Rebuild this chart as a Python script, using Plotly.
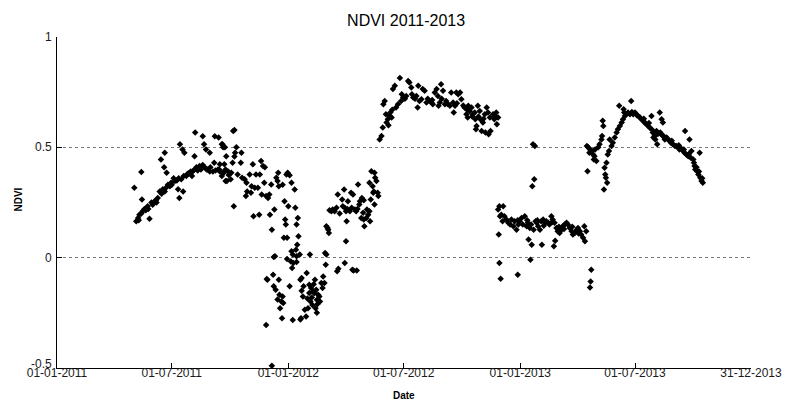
import pandas as pd
import plotly.graph_objects as go

# (days since 2011-01-01, NDVI)
SEASON_2011 = [
    (125,0.165),(128,0.18),(130,0.195),(135,0.21),(138,0.22),(143,0.233),(146,0.176),(149,0.25),(154,0.256),(159,0.27),
    (162,0.30),(167,0.31),(172,0.317),(178,0.324),(180,0.34),(186,0.347),(191,0.31),(193,0.27),(199,0.30),(196,0.355),
    (204,0.37),(209,0.385),(214,0.39),(220,0.41),(225,0.415),(233,0.41),(238,0.40),(246,0.39),(254,0.40),(262,0.385),
    (270,0.39),(275,0.385),
    (122,0.317),(133,0.388),(164,0.445),(170,0.476),(169,0.41),(173,0.385),(194,0.514),(198,0.49),(201,0.476),(217,0.46),
    (218,0.567),(230,0.55),(232,0.514),(235,0.49),(241,0.476),(249,0.55),(255,0.545),(260,0.514),(265,0.50),(267,0.46),
    (248,0.43),(257,0.423),(264,0.423),(266,0.347),(278,0.574),(134,0.264),
    (129,0.17),(133,0.2),(140,0.215),(144,0.22),(151,0.24),(156,0.26),(157,0.25),(165,0.29),(170,0.3),(175,0.33),
    (181,0.33),(184,0.36),(189,0.35),(192,0.36),(200,0.37),(206,0.38),(211,0.39),(213,0.37),(217,0.40),(222,0.395),
    (227,0.40),(230,0.42),(236,0.40),(241,0.39),(242,0.41),(250,0.395),(257,0.39),(260,0.37),(266,0.40),(271,0.375),
    (280,0.579),(261,0.514),(262,0.50),(283,0.50),(281,0.476),(291,0.476),(280,0.458),(277,0.43),(290,0.43),(309,0.423),
    (322,0.438),(325,0.415),(328,0.41),(256,0.40),(263,0.385),(272,0.385),(268,0.347),(274,0.355),(285,0.377),(292,0.362),
    (296,0.355),(299,0.34),(304,0.377),(307,0.324),(312,0.317),(317,0.317),(300,0.30),(298,0.279),(306,0.294),(314,0.377),
    (320,0.377),(327,0.34),(323,0.286),(330,0.279),(333,0.27),(335,0.286),(338,0.332),(349,0.385),(346,0.362),(348,0.347),
    (350,0.324),(364,0.385),(367,0.373),(362,0.377),(279,0.233),(310,0.188),(319,0.195),(336,0.195),(343,0.218),(339,0.127),
    (359,0.256),(365,0.233),(375,0.309),(376,0.226),(380,0.18),(360,0.173),(361,0.15),(378,0.15),(381,0.097),(358,0.09),
    (363,0.09),(379,0.059),(377,0.036),(370,0.029),(372,0.014),(378,0.006),(344,0.006),(369,-0.017),(371,-0.047),(373,-0.024),
    (383,0.014),(399,0.014),(425,0.014),(424,-0.032),(427,0.135),(356,0.33),(370,0.34),
]

WINTER_2012 = [
    (332,-0.10),(341,-0.077),(342,-0.13),(345,-0.145),(351,-0.168),(356,-0.176),(354,-0.199),(352,-0.229),(355,-0.274),(330,-0.305),
    (367,-0.13),(372,-0.282),(385,-0.274),(391,-0.236),(393,-0.267),(384,-0.10),(386,-0.092),(388,-0.176),(394,-0.07),(398,-0.123),
    (401,-0.138),(404,-0.153),(406,-0.161),(409,-0.145),(412,-0.168),(410,-0.191),(414,-0.176),(415,-0.199),(400,-0.199),(403,-0.214),
    (396,-0.229),(408,-0.229),(407,-0.10),(420,-0.085),(422,-0.115),(419,-0.138),(331,-0.097),(342,0.003),(363,-0.006),(357,-0.206),
    (389,-0.13),(384,-0.28),(417,-0.115),(442,-0.062),(454,-0.024),(468,-0.058),(473,-0.058),(339,-0.49),(402,-0.18),(411,-0.21),
    (405,-0.12),(398,-0.16),(348,-0.19),(350,-0.1),(378,-0.02),(386,-0.15),(395,-0.185),(410,-0.25),
]

SPRING_2012 = [
    (496,0.392),(501,0.385),(502,0.362),(504,0.347),(493,0.34),(498,0.324),(500,0.30),(506,0.294),(507,0.279),(499,0.294),
    (495,0.264),(501,0.241),(493,0.21),(491,0.195),(488,0.18),(494,0.165),(489,0.218),(483,0.203),(484,0.173),(485,0.142),
    (480,0.18),(477,0.241),(481,0.27),(475,0.332),(478,0.256),(467,0.286),(464,0.294),(465,0.226),(470,0.218),(472,0.21),
    (462,0.21),(456,0.21),(454,0.226),(451,0.233),(459,0.256),(453,0.309),(450,0.264),(443,0.286),(441,0.226),(435,0.218),
    (438,0.21),(433,0.21),(457,0.165),(425,0.142),(428,0.127),(429,0.112),(456,0.074),(423,0.021),(444,-0.05),(466,-0.055),
    (430,0.215),(446,0.2),(458,0.22),(474,0.22),(484,0.26),
]

SUMMER_2012 = [
    (509,0.536),(512,0.551),(514,0.59),(520,0.612),(522,0.627),(525,0.642),(519,0.65),(526,0.658),(528,0.635),(515,0.695),
    (517,0.71),(530,0.764),(533,0.779),(541,0.814),(535,0.68),(538,0.695),(543,0.71),(546,0.726),(544,0.741),(551,0.733),
    (554,0.801),(556,0.794),(559,0.771),(560,0.741),(562,0.726),(567,0.733),(570,0.779),(572,0.71),(569,0.68),(575,0.718),
    (577,0.764),(580,0.756),(583,0.703),(588,0.71),(591,0.703),(593,0.695),(596,0.748),(599,0.764),(601,0.733),(602,0.688),
    (604,0.703),(606,0.786),(609,0.756),(612,0.695),(614,0.71),(617,0.695),(620,0.688),(622,0.748),(625,0.703),(626,0.658),
    (628,0.688),(630,0.748),(633,0.741),(636,0.748),(638,0.718),(643,0.68),(646,0.65),(649,0.688),(651,0.665),(648,0.635),
    (654,0.68),(656,0.65),(659,0.658),(660,0.627),(662,0.597),(664,0.688),(667,0.665),(668,0.627),(661,0.582),(670,0.574),
    (672,0.612),(675,0.65),(676,0.567),(678,0.68),(680,0.658),(683,0.635),(681,0.559),(684,0.574),(688,0.65),(691,0.642),
    (693,0.658),(690,0.627),(696,0.635),(694,0.605),(549,0.72),(565,0.72),(585,0.72),(592,0.715),(607,0.72),(615,0.70),
    (631,0.70),(641,0.69),(647,0.67),(655,0.64),(665,0.64),(673,0.63),(529,0.67),(523,0.6),
]

WINTER_2013 = [
    (751,0.514),(754,0.506),(753,0.355),(750,0.324),(698,0.233),(704,0.233),(696,0.218),(701,0.195),(699,0.188),(706,0.188),
    (709,0.173),(703,0.165),(712,0.158),(717,0.173),(722,0.165),(720,0.142),(725,0.127),(728,0.15),(730,0.165),(733,0.18),
    (738,0.188),(735,0.15),(741,0.142),(743,0.158),(746,0.135),(748,0.15),(752,0.127),(755,0.165),(757,0.158),(759,0.142),
    (762,0.127),(764,0.165),(767,0.173),(770,0.158),(772,0.165),(775,0.158),(777,0.15),(780,0.188),(782,0.173),(785,0.158),
    (788,0.135),(790,0.12),(793,0.112),(796,0.127),(798,0.142),(801,0.15),(804,0.158),(806,0.15),(809,0.135),(812,0.12),
    (814,0.105),(817,0.112),(820,0.127),(822,0.135),(825,0.12),(827,0.105),(830,0.09),(833,0.074),(832,0.142),(835,0.12),
    (697,0.105),(744,0.082),(749,0.059),(765,0.059),(786,0.077),(784,0.052),(698,-0.024),(700,-0.095),(727,-0.077),(747,-0.009),
    (843,-0.055),(842,-0.108),(841,-0.135),(715,0.15),(727,0.17),(742,0.17),(758,0.17),(768,0.145),(781,0.16),(792,0.14),
    (800,0.13),(813,0.14),(823,0.11),
]

SUMMER_2013 = [
    (836,0.506),(838,0.50),(841,0.49),(840,0.476),(844,0.483),(846,0.468),(848,0.46),(847,0.445),(851,0.438),(849,0.49),
    (854,0.50),(856,0.514),(859,0.536),(860,0.551),(862,0.597),(861,0.62),(837,0.392),(864,0.408),(867,0.43),(865,0.377),
    (866,0.362),(868,0.34),(863,0.309),(872,0.536),(869,0.468),(871,0.483),(875,0.506),(877,0.521),(880,0.544),(883,0.567),
    (885,0.582),(888,0.597),(891,0.612),(893,0.627),(896,0.642),(898,0.65),(887,0.688),(894,0.673),(895,0.658),(906,0.71),
    (901,0.658),(904,0.65),(909,0.65),(912,0.658),(914,0.65),(917,0.642),(920,0.635),(922,0.627),(925,0.62),(927,0.612),
    (930,0.605),(933,0.597),(935,0.59),(938,0.642),(940,0.567),(943,0.551),(941,0.544),(946,0.574),(944,0.536),(947,0.514),
    (951,0.658),(954,0.627),(956,0.612),(952,0.567),(953,0.559),(957,0.551),(959,0.536),(962,0.544),(964,0.536),(967,0.529),
    (969,0.52),(972,0.514),(975,0.506),(977,0.506),(980,0.50),(982,0.49),(985,0.495),(988,0.483),(990,0.476),(991,0.574),
    (993,0.468),(996,0.46),(998,0.536),(1001,0.483),(1000,0.453),(1004,0.445),(1006,0.415),(1007,0.40),(1009,0.41),(1010,0.392),
    (1012,0.377),(1014,0.476),(1015,0.362),(1017,0.347),(1019,0.34),(907,0.66),(915,0.645),(926,0.63),(934,0.61),(939,0.58),
    (948,0.56),(958,0.545),(970,0.53),(981,0.51),(989,0.49),(997,0.47),(1005,0.43),(1013,0.39),(1018,0.36),
]

X_TICK_DATES = ["2011-01-01", "2011-07-01", "2012-01-01", "2012-07-01", "2013-01-01", "2013-07-01", "2013-12-31"]
X_TICK_LABELS = ["01-01-2011", "01-07-2011", "01-01-2012", "01-07-2012", "01-01-2013", "01-07-2013", "31-12-2013"]
Y_TICKS = [-0.5, 0, 0.5, 1]
Y_TICK_LABELS = ["-0.5", "0", "0.5", "1"]

all_pts = SEASON_2011 + WINTER_2012 + SPRING_2012 + SUMMER_2012 + WINTER_2013 + SUMMER_2013
days = [p[0] for p in all_pts]
ndvi = [p[1] for p in all_pts]
dates = pd.to_datetime(days, unit="D", origin=pd.Timestamp("2011-01-01"))

FONT = "Liberation Sans, Arial, sans-serif"
TICK_FONT = dict(family=FONT, size=12, color="#1a1a1a")
FIG_W, FIG_H = 790, 395  # page body adds an 8px offset

fig = go.Figure(
    go.Scatter(
        x=dates, y=ndvi, mode="markers",
        marker=dict(symbol="diamond", size=5, color="black", line=dict(width=0)),
        hoverinfo="skip",
    )
)

# y tick labels placed just left of the axis line
y_label_annots = [
    dict(text=lab, x=0, y=val, xref="paper", yref="y", xanchor="right", yanchor="middle",
         xshift=-3, yshift=(4 if val == Y_TICKS[0] else 0), showarrow=False, font=TICK_FONT)
    for val, lab in zip(Y_TICKS, Y_TICK_LABELS)
]

fig.update_layout(
    width=FIG_W, height=FIG_H,
    margin=dict(l=49, r=47, t=29, b=35, autoexpand=False),
    plot_bgcolor="white", paper_bgcolor="white",
    showlegend=False,
    title=dict(text="NDVI 2011-2013", x=0.503, xref="paper", xanchor="center",
               y=1 - 12 / FIG_H, yanchor="middle",
               font=dict(family=FONT, size=16, color="black")),
    annotations=[
        dict(text="<b>Date</b>", x=0.5, y=0, xref="paper", yref="paper",
             yshift=-27, showarrow=False, yanchor="middle",
             font=dict(family=FONT, size=10, color="black")),
        dict(text="<b>NDVI</b>", x=0, y=0.5, xref="paper", yref="paper",
             xshift=-39, yshift=3, showarrow=False, textangle=-90,
             xanchor="center", yanchor="middle",
             font=dict(family=FONT, size=10, color="black")),
    ] + y_label_annots,
)

fig.update_xaxes(
    type="date", range=["2011-01-01", "2013-12-31"],
    tickmode="array", tickvals=X_TICK_DATES, ticktext=X_TICK_LABELS,
    ticks="inside", ticklen=5, tickcolor="black", tickwidth=1,
    showline=True, linecolor="black", linewidth=1,
    showgrid=False, zeroline=False, automargin=False,
    ticklabelstandoff=-6,
    tickfont=TICK_FONT,
)
fig.update_yaxes(
    range=[-0.5, 1],
    tickmode="array", tickvals=Y_TICKS, showticklabels=False,
    ticks="inside", ticklen=5, tickcolor="black", tickwidth=1,
    showline=True, linecolor="black", linewidth=1,
    showgrid=True, gridcolor="#7a7a7a", griddash="dot", gridwidth=1,
    zeroline=False, automargin=False,
)

fig.write_html("out.html")
